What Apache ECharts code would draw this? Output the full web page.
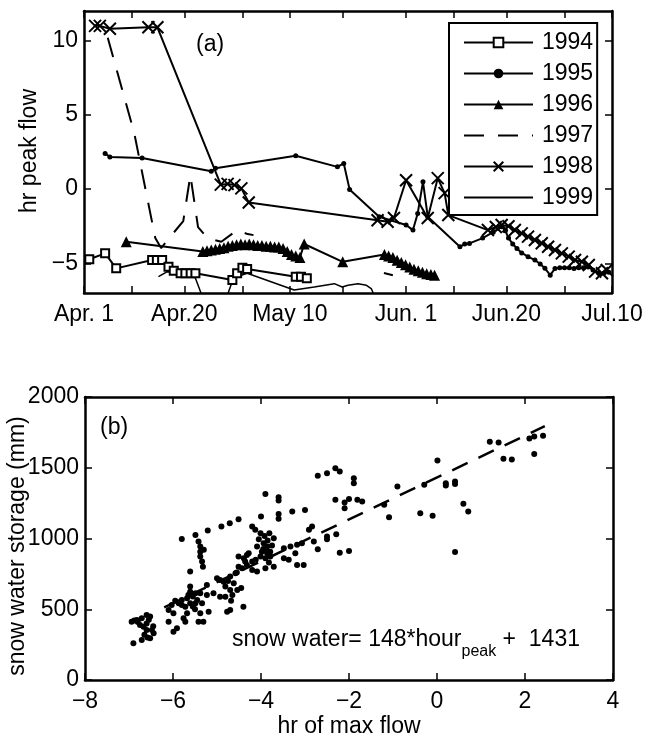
<!DOCTYPE html>
<html>
<head>
<meta charset="utf-8">
<script src="https://cdn.jsdelivr.net/npm/echarts@6/dist/echarts.min.js"></script>
<style>
  html, body { margin: 0; padding: 0; background: #fff; }
  #main { width: 655px; height: 743px; }
</style>
</head>
<body>
<div id="main"></div>
<script>
// panel (a): day counted from Apr. 1, value = hr of peak flow
var years = ['1994', '1995', '1996', '1997', '1998', '1999'];
var tickDays = [0, 19, 39, 61, 80, 100];
var tickLabels = ['Apr. 1', 'Apr.20', 'May 10', 'Jun. 1', 'Jun.20', 'Jul.10'];
var minorTickDays = [0, 9, 19, 30, 39, 49, 61, 70, 80, 91, 100];
var yTicksA = [-5, 0, 5, 10];

var s1994 = [[1.0,-4.73],[4.0,-4.33],[6.1,-5.34],[12.9,-4.78],[13.8,-4.78],[14.8,-4.78],[16.0,-5.23],[17.0,-5.5],
  [18.3,-5.67],[19.2,-5.67],[20.2,-5.67],[21.1,-5.67],[28.1,-6.12],[29.0,-5.67],[30.0,-5.3],[30.9,-5.38],
  [40.1,-5.9],[41.1,-5.9],[42.2,-6.0]];
var s1995 = [[4.0,2.4],[4.9,2.17],[11.0,2.1],[24.1,1.2],[24.9,1.4],[40.1,2.25],[48.0,1.5],[49.2,1.73],[50.3,-0.02],
  [55.9,-1.86],[61.0,-2.42],[62.3,-2.76],[63.2,-1.64],[64.2,0.49],[65.1,-1.86],[71.2,-3.88],[72.1,-3.7],[73.0,-3.66],
  [75.5,-3.3],[77.5,-2.9],[79.1,-2.54],[79.8,-2.8],[80.4,-3.3],[81.2,-3.7],[82.0,-4.0],[82.9,-4.3],[84.1,-4.55],
  [85.4,-4.78],[86.4,-5.05],[87.3,-5.34],[88.3,-5.8],[89.2,-5.35],[90.1,-5.3],[91.0,-5.3],[91.9,-5.3],[92.8,-5.35],
  [93.7,-5.3],[94.6,-5.3],[95.5,-5.25],[96.4,-5.45],[97.5,-5.67],[98.5,-5.65],[99.4,-5.6]];
var s1996 = [[8.0,-3.55],[22.5,-4.2],[23.3,-4.15],[24.1,-4.1],[24.9,-4.05],[25.7,-4.0],[26.5,-3.95],[27.3,-3.85],
  [28.1,-3.8],[28.9,-3.75],[29.7,-3.7],[30.5,-3.75],[31.3,-3.7],[32.1,-3.75],[32.9,-3.8],[33.7,-3.8],[34.5,-3.85],
  [35.3,-3.85],[36.1,-3.9],[36.9,-3.9],[37.7,-4.0],[38.5,-4.2],[39.3,-4.4],[40.1,-4.5],[40.9,-4.6],[41.7,-3.7],
  [49.0,-4.9],[56.9,-4.4],[57.7,-4.5],[58.5,-4.6],[59.3,-4.8],[60.1,-4.95],[60.9,-5.1],[61.7,-5.25],[62.5,-5.4],
  [63.3,-5.5],[64.1,-5.6],[64.9,-5.7],[65.7,-5.75],[66.4,-5.8]];
var s1997 = [[4.5,10.2],[9.5,3.8],[13.5,-3.3],[14.6,-3.97],[18.8,-2.15],[20.15,0.94],[21.6,-2.56],[23.4,-3.3],
  [26.0,-3.55],[29.0,-2.76],[31.0,-3.03],[32.1,-3.1],null,[56.8,-5.65],[58.5,-5.8]];
var s1998 = [[2.1,11.0],[3.0,11.0],[4.9,10.8],[12.2,10.9],[13.9,10.9],[25.9,0.3],[27.2,0.35],[28.5,0.27],[29.8,0.05],
  [31.2,-0.9],[55.6,-2.1],[57.5,-2.2],[58.7,-1.95],[61.0,0.6],[65.1,-1.95],[67.0,0.74],[68.3,-0.27],[69.0,-1.75],
  [76.5,-2.76],[78.0,-2.55],[79.1,-2.42],[80.4,-2.5],[81.6,-2.76],[82.9,-2.98],[84.1,-3.2],[85.4,-3.43],[86.7,-3.65],
  [87.9,-3.88],[89.2,-4.1],[90.5,-4.33],[91.8,-4.55],[93.0,-4.78],[94.3,-4.89],[95.6,-5.11],[96.8,-5.56],[98.1,-5.67],
  [99.0,-5.45]];
var s1999 = [[14.1,-5.9],[15.7,-5.57],[18.0,-5.6],[21.0,-5.9],[24.8,-9.5],[28.3,-6.0],[30.9,-5.67],[39.8,-6.8],
  [43.6,-6.6],[47.4,-6.37],[48.9,-6.6],[50.0,-6.48],[51.9,-6.37],[53.5,-6.48],[54.4,-6.7],[55.5,-7.6]];

// panel (b): hr of max flow vs snow water storage (mm)
var scatterPts = [
  [-6.94,412],[-6.82,424],[-6.71,436],[-6.60,460],[-6.52,448],[-6.75,389],[-6.67,377],[-6.60,354],[-6.48,354],
  [-6.44,330],[-6.52,295],[-6.71,283],[-6.90,259],[-6.60,400],[-6.55,425],[-6.80,410],[-6.88,420],[-6.65,320],
  [-6.45,380],[-6.58,300],
  [-6.10,495],[-6.03,530],[-5.99,471],[-6.10,412],[-5.91,365],[-5.99,341],[-5.95,560],
  [-5.80,997],[-5.49,1025],[-5.21,1056],[-4.90,1084],[-4.71,1108],[-4.51,1136],
  [-5.42,978],[-5.38,943],[-5.38,907],[-5.38,872],[-5.34,837],[-5.32,801],[-5.61,766],[-5.30,920],
  [-5.61,660],[-5.61,624],[-5.49,613],[-5.38,613],[-5.23,601],[-5.68,578],[-5.80,566],[-5.87,542],[-5.80,530],
  [-5.72,518],[-5.61,542],[-5.49,542],[-5.34,542],[-5.19,483],[-5.38,471],[-5.31,412],[-5.42,412],[-5.68,471],
  [-5.76,436],[-5.72,412],[-5.55,520],[-5.45,565],[-5.23,672],[-5.55,590],[-5.65,600],[-5.50,500],
  [-5.0,719],[-4.93,707],[-4.85,695],[-4.70,731],[-4.58,754],[-4.81,660],[-4.70,636],[-4.54,636],[-4.81,589],
  [-4.93,589],[-4.77,483],[-4.70,495],[-4.40,518],[-4.62,684],[-4.51,801],[-4.36,837],[-4.51,872],[-4.32,884],
  [-5.08,613],[-4.65,600],[-4.45,650],[-4.75,700],[-4.55,760],[-4.68,560],
  [-4.43,790],[-4.39,860],[-4.28,896],[-4.20,837],[-4.32,813],[-4.09,766],[-4.20,778],[-3.90,790],[-3.71,801],
  [-4.09,943],[-3.94,967],[-3.86,943],[-3.98,907],[-3.86,896],[-3.79,907],[-4.01,872],[-3.90,860],[-3.79,872],
  [-3.85,985],[-3.75,950],[-4.05,995],[-3.95,925],[-3.88,915],[-4.12,850],[-3.82,830],
  [-4.20,1084],[-4.13,1061],[-4.01,1037],[-3.92,1018],[-3.81,1037],[-3.71,1002],[-4.0,1155],
  [-3.90,1315],[-3.60,1292],[-3.60,1268],[-3.60,1174],[-3.60,1139],[-3.29,1190],[-3.00,1202],
  [-3.48,931],[-3.33,943],[-3.18,955],[-3.07,967],[-3.48,860],[-3.37,849],[-3.18,813],[-3.03,813],[-3.22,896],
  [-2.91,1061],[-2.84,1084],[-2.80,978],[-2.71,924],[-2.50,1014],[-2.50,995],[-2.29,1030],[-2.21,900],[-2.00,912],
  [-2.71,1443],[-2.50,1462],[-2.31,1497],[-2.21,1473],[-1.89,1426],[-1.89,1391],
  [-2.31,1273],[-2.10,1254],[-2.00,1280],[-2.10,1214],[-1.81,1273],[-1.70,1261],
  [-1.20,1238],[-1.09,1151],[-0.90,1367],[-0.38,1179],[-0.10,1160],[-0.29,1379],[0.01,1551],[0.20,1391],[0.20,1374],
  [0.41,1402],[0.41,1386],[0.60,1245],[0.71,1190],[0.41,905],
  [1.20,1683],[1.40,1678],[1.51,1563],[1.70,1558],[2.10,1707],[2.21,1721],[2.41,1726],[2.21,1598]
];
var fitSlope = 148;
var fitIntercept = 1431;
var fitRange = [-6.2, 2.45];

var FONT = '"Liberation Sans", Arial, Helvetica, sans-serif';
var FS = 23;

function minus(v) { return String(v).replace('-', '\u2212'); }
function dayLabel(v) {
  var i = tickDays.indexOf(v);
  return i >= 0 ? tickLabels[i] : '';
}

var frame = { show: true, onZero: false, lineStyle: { color: '#000', width: 2.5 } };
var tick = { show: true, inside: true, length: 7, lineStyle: { color: '#000', width: 1.5 } };
var lbl = { color: '#000', fontSize: FS, fontFamily: FONT };

function axisA(kind, pos, labels) {
  var o = {
    gridIndex: 0, type: 'value', position: pos,
    axisLine: frame, splitLine: { show: false }
  };
  if (kind === 'x') {
    o.min = 0; o.max = 100;
    o.axisTick = Object.assign({}, tick, { customValues: minorTickDays });
    o.axisLabel = labels ? Object.assign({}, lbl, { customValues: tickDays, formatter: dayLabel, margin: 10 }) : { show: false };
  } else {
    o.min = -7; o.max = 12;
    o.axisTick = Object.assign({}, tick, { customValues: yTicksA });
    o.axisLabel = labels ? Object.assign({}, lbl, { customValues: yTicksA, formatter: minus, margin: 6 }) : { show: false };
  }
  return o;
}
function axisB(kind, pos, labels) {
  var o = {
    gridIndex: 1, type: 'value', position: pos,
    axisLine: frame, splitLine: { show: false }, axisTick: tick
  };
  if (kind === 'x') { o.min = -8; o.max = 4; o.interval = 2; }
  else { o.min = 0; o.max = 2000; o.interval = 500; }
  o.axisLabel = labels ? Object.assign({}, lbl, { formatter: minus, margin: kind === 'x' ? 10 : 6 }) : { show: false };
  return o;
}

var xSym = 'path://M0,0L10,10M10,0L0,10';
var noFill = 'rgba(0,0,0,0)';
function lineSeries(name, data, extra) {
  return Object.assign({
    name: name, type: 'line', xAxisIndex: 0, yAxisIndex: 0, data: data,
    showAllSymbol: true, animation: false, connectNulls: false,
    lineStyle: { color: '#000', width: 2 },
    itemStyle: { color: '#000' }
  }, extra);
}

var fitData = fitRange.map(function (x) { return [x, fitSlope * x + fitIntercept]; });

var myChart = echarts.init(document.getElementById('main'));
var option = {
  backgroundColor: '#fff',
  animation: false,
  grid: [
    { left: 84, top: 11, width: 528, height: 282 },
    { left: 85, top: 397, width: 528, height: 283 }
  ],
  xAxis: [axisA('x', 'bottom', true), axisA('x', 'top', false), axisB('x', 'bottom', true), axisB('x', 'top', false)],
  yAxis: [axisA('y', 'left', true), axisA('y', 'right', false), axisB('y', 'left', true), axisB('y', 'right', false)],
  legend: {
    data: years, orient: 'vertical', left: 449, top: 23,
    itemWidth: 69, itemHeight: 12, itemGap: 8,
    padding: [8, 4, 6, 14],
    borderColor: '#000', borderWidth: 2, backgroundColor: '#fff',
    textStyle: { color: '#000', fontSize: FS, fontFamily: FONT, lineHeight: 23, padding: [0, 0, 0, 4] }
  },
  graphic: [
    { type: 'text', left: 196, top: 33, style: { text: '(a)', font: FS + 'px ' + FONT, fill: '#000' } },
    { type: 'text', left: 100, top: 416, style: { text: '(b)', font: FS + 'px ' + FONT, fill: '#000' } },
    { type: 'text', x: 30, y: 151, rotation: Math.PI / 2,
      style: { text: 'hr peak flow', font: FS + 'px ' + FONT, fill: '#000', align: 'center', verticalAlign: 'middle' } },
    { type: 'text', x: 18, y: 546, rotation: Math.PI / 2,
      style: { text: 'snow water storage (mm)', font: FS + 'px ' + FONT, fill: '#000', align: 'center', verticalAlign: 'middle' } },
    { type: 'text', x: 349, y: 727,
      style: { text: 'hr of max flow', font: FS + 'px ' + FONT, fill: '#000', align: 'center', verticalAlign: 'middle' } },
    { type: 'text', x: 232, y: 620,
      style: {
        text: '{a|snow water= 148*hour}{s|peak}{a| +  1431}',
        rich: {
          a: { fontSize: FS, fontFamily: FONT, fill: '#000', color: '#000', lineHeight: 40 },
          s: { fontSize: 16, fontFamily: FONT, fill: '#000', color: '#000', lineHeight: 18, verticalAlign: 'bottom' }
        }
      } }
  ],
  series: [
    lineSeries('1994', s1994, { symbol: 'emptyRect', symbolSize: 8, itemStyle: { color: '#000', borderWidth: 1.5 } }),
    lineSeries('1995', s1995, { symbol: 'circle', symbolSize: 5 }),
    lineSeries('1996', s1996, { symbol: 'triangle', symbolSize: 11 }),
    lineSeries('1997', s1997, { symbol: 'none', itemStyle: { color: noFill }, lineStyle: { color: '#000', width: 2, type: [20, 14] } }),
    lineSeries('1998', s1998, { symbol: xSym, symbolSize: 12, itemStyle: { color: '#000', borderColor: '#000', borderWidth: 2 } }),
    lineSeries('1999', s1999, { symbol: 'none', itemStyle: { color: noFill }, lineStyle: { color: '#000', width: 1.5 } }),
    {
      name: 'obs', type: 'scatter', xAxisIndex: 2, yAxisIndex: 2, data: scatterPts,
      symbol: 'circle', symbolSize: 6, itemStyle: { color: '#000', opacity: 1 }, animation: false
    },
    {
      name: 'fit', type: 'line', xAxisIndex: 2, yAxisIndex: 2, data: fitData, symbol: 'none',
      lineStyle: { color: '#000', width: 2.5, type: [17, 12] }, animation: false
    }
  ]
};
myChart.setOption(option);
</script>
</body>
</html>
